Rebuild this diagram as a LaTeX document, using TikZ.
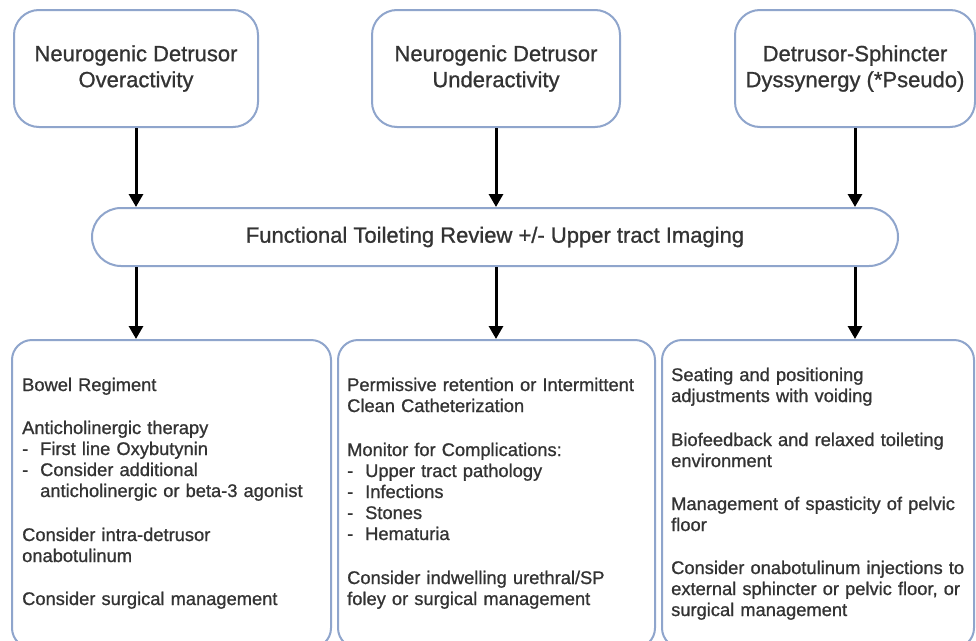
\documentclass[tikz,border=0pt]{standalone}
\usepackage{fontspec}
\setmainfont{Liberation Sans}
\newfontfamily\semib{Liberation Sans}[FakeBold=0.9]
\usetikzlibrary{arrows.meta}
\definecolor{bord}{HTML}{8FA5CC}
\definecolor{txt}{HTML}{333333}
\newcommand{\mydash}{\makebox[18pt][l]{-}}
\newcommand{\myind}{\hspace*{18pt}}
\begin{document}
\begin{tikzpicture}[x=1pt,y=-1pt,
  topbox/.style={draw=bord, line width=2pt, rounded corners=25pt, fill=white,
    minimum width=#1, minimum height=117pt, align=center, inner sep=0pt,
    font=\semib\fontsize{22}{26}\selectfont, text=txt},
  barbox/.style={draw=bord, line width=2pt, rounded corners=29pt, fill=white,
    minimum width=806pt, minimum height=58pt, inner sep=0pt,
    font=\semib\fontsize{22}{25}\selectfont, text=txt},
  botbox/.style={draw=bord, line width=2pt, rounded corners=20pt, fill=white,
    minimum width=#1, minimum height=308pt, inner sep=0pt},
  body/.style={anchor=base west, align=left, text width=310pt, inner sep=0pt,
    font=\semib\fontsize{18.3}{21}\selectfont, text=txt},
  arr/.style={draw=black, line width=3pt, -{Triangle[width=14pt,length=13pt]}}]
\useasboundingbox (0,0) rectangle (976,640);
\clip (0,0) rectangle (976,640);
\fill[white] (0,0) rectangle (976,640);

\node[topbox=244pt] (t1) at (136,68.5) {Neurogenic Detrusor\\Overactivity};
\node[topbox=248pt] (t2) at (496,68.5) {Neurogenic Detrusor\\Underactivity};
\node[topbox=240pt] (t3) at (855,68.5) {Detrusor-Sphincter\\Dyssynergy (*Pseudo)};

\node[barbox] (bar) at (495,237) {Functional Toileting Review +/- Upper tract Imaging};

\node[botbox=319pt] (bA) at (171.5,494) {};
\node[botbox=317pt] (bB) at (496.5,494) {};
\node[botbox=312pt] (bC) at (818,494) {};

\node[body] (ta) at (22,391) {Bowel Regiment\\[22pt]
Anticholinergic therapy\\
\mydash First line Oxybutynin\\
\mydash Consider additional\\
\myind anticholinergic or beta-3 agonist\\[23pt]
Consider intra-detrusor\\
onabotulinum\\[22pt]
Consider surgical management};

\node[body] (tb) at (347,391) {Permissive retention or Intermittent\\
Clean Catheterization\\[23pt]
Monitor for Complications:\\
\mydash Upper tract pathology\\
\mydash Infections\\
\mydash Stones\\
\mydash Hematuria\\[23pt]
Consider indwelling urethral/SP\\
foley or surgical management};

\node[body] (tc) at (671,381) {Seating and positioning\\
adjustments with voiding\\[23pt]
Biofeedback and relaxed toileting\\
environment\\[22pt]
Management of spasticity of pelvic\\
floor\\[22pt]
Consider onabotulinum injections to\\
external sphincter or pelvic floor, or\\
surgical management};

\draw[arr] (t1.south) -- (t1.south |- bar.north);
\draw[arr] (t2.south) -- (t2.south |- bar.north);
\draw[arr] (t3.south) -- (t3.south |- bar.north);
\draw[arr] (bar.south -| t1.south) -- (bA.north -| t1.south);
\draw[arr] (bar.south -| t2.south) -- (bB.north -| t2.south);
\draw[arr] (bar.south -| t3.south) -- (bC.north -| t3.south);
\end{tikzpicture}
\end{document}
